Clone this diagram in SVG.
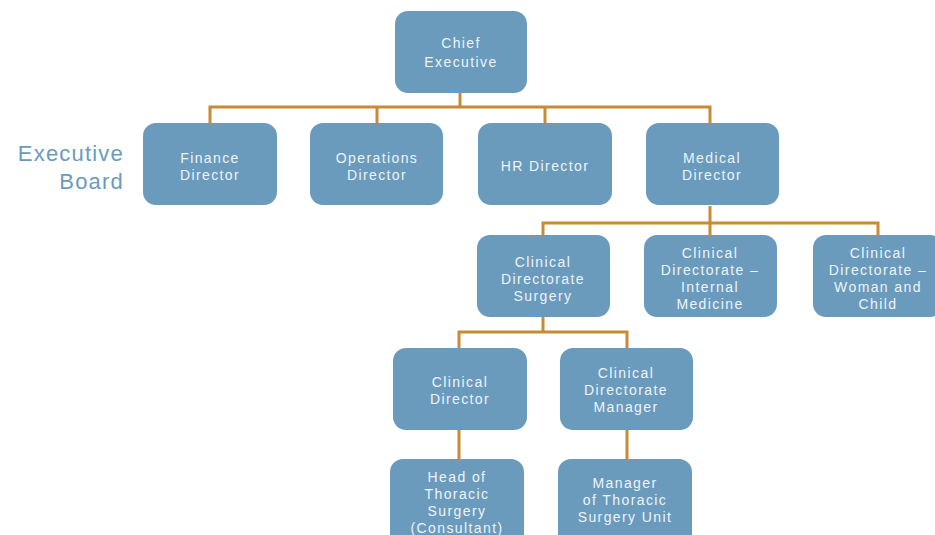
<svg xmlns="http://www.w3.org/2000/svg" width="935" height="535" viewBox="0 0 935 535">
<style>
.box{fill:#6a9bbd;}
.t{font-family:"Liberation Sans",Arial,sans-serif;font-size:14px;fill:#eef4f8;text-anchor:middle;letter-spacing:1.4px;}
.c{stroke:#c98a35;stroke-width:3;fill:none;}
.lbl{font-family:"Liberation Sans",Arial,sans-serif;font-size:22px;fill:#6a9bbd;text-anchor:end;letter-spacing:1.2px;}
</style>
<rect width="935" height="535" fill="#ffffff"/>
<g id="connectors">
<path class="c" d="M460 93V107M210 123V107H710V123M377 107V123M545 107V123"/>
<path class="c" d="M710 206V223M543 235V223H878V235M710 223V235"/>
<path class="c" d="M543 317V332M459 348V332H627V348"/>
<path class="c" d="M459 430V459M627 430V459"/>
</g>
<g id="label-executive-board">
<text class="lbl" x="124" y="161">Executive</text>
<text class="lbl" x="124" y="189">Board</text>
</g>
<g id="chief-executive">
<rect class="box" x="395" y="11" width="132" height="82" rx="13"/>
<text class="t" x="461" y="48">Chief</text>
<text class="t" x="461" y="67">Executive</text>
</g>
<g id="finance-director">
<rect class="box" x="143" y="123" width="134" height="82" rx="13"/>
<text class="t" x="210" y="163">Finance</text>
<text class="t" x="210" y="180">Director</text>
</g>
<g id="operations-director">
<rect class="box" x="310" y="123" width="133" height="82" rx="13"/>
<text class="t" x="377" y="163">Operations</text>
<text class="t" x="377" y="180">Director</text>
</g>
<g id="hr-director">
<rect class="box" x="478" y="123" width="134" height="82" rx="13"/>
<text class="t" x="545" y="171">HR Director</text>
</g>
<g id="medical-director">
<rect class="box" x="646" y="123" width="133" height="82" rx="13"/>
<text class="t" x="712" y="163">Medical</text>
<text class="t" x="712" y="180">Director</text>
</g>
<g id="cd-surgery">
<rect class="box" x="477" y="235" width="133" height="82" rx="13"/>
<text class="t" x="543" y="267">Clinical</text>
<text class="t" x="543" y="284">Directorate</text>
<text class="t" x="543" y="301">Surgery</text>
</g>
<g id="cd-internal-medicine">
<rect class="box" x="644" y="235" width="133" height="82" rx="13"/>
<text class="t" x="710" y="258">Clinical</text>
<text class="t" x="710" y="275">Directorate –</text>
<text class="t" x="710" y="292">Internal</text>
<text class="t" x="710" y="309">Medicine</text>
</g>
<g id="cd-woman-child">
<rect class="box" x="813" y="235" width="130" height="82" rx="13"/>
<text class="t" x="878" y="258">Clinical</text>
<text class="t" x="878" y="275">Directorate –</text>
<text class="t" x="878" y="292">Woman and</text>
<text class="t" x="878" y="309">Child</text>
</g>
<g id="clinical-director">
<rect class="box" x="393" y="348" width="134" height="82" rx="13"/>
<text class="t" x="460" y="387">Clinical</text>
<text class="t" x="460" y="404">Director</text>
</g>
<g id="cd-manager">
<rect class="box" x="560" y="348" width="133" height="82" rx="13"/>
<text class="t" x="626" y="378">Clinical</text>
<text class="t" x="626" y="395">Directorate</text>
<text class="t" x="626" y="412">Manager</text>
</g>
<g id="head-thoracic">
<rect class="box" x="390" y="459" width="134" height="90" rx="13"/>
<text class="t" x="457" y="482">Head of</text>
<text class="t" x="457" y="499">Thoracic</text>
<text class="t" x="457" y="516">Surgery</text>
<text class="t" x="457" y="533">(Consultant)</text>
</g>
<g id="manager-thoracic">
<rect class="box" x="558" y="459" width="134" height="90" rx="13"/>
<text class="t" x="625" y="488">Manager</text>
<text class="t" x="625" y="505">of Thoracic</text>
<text class="t" x="625" y="522">Surgery Unit</text>
</g>
</svg>
